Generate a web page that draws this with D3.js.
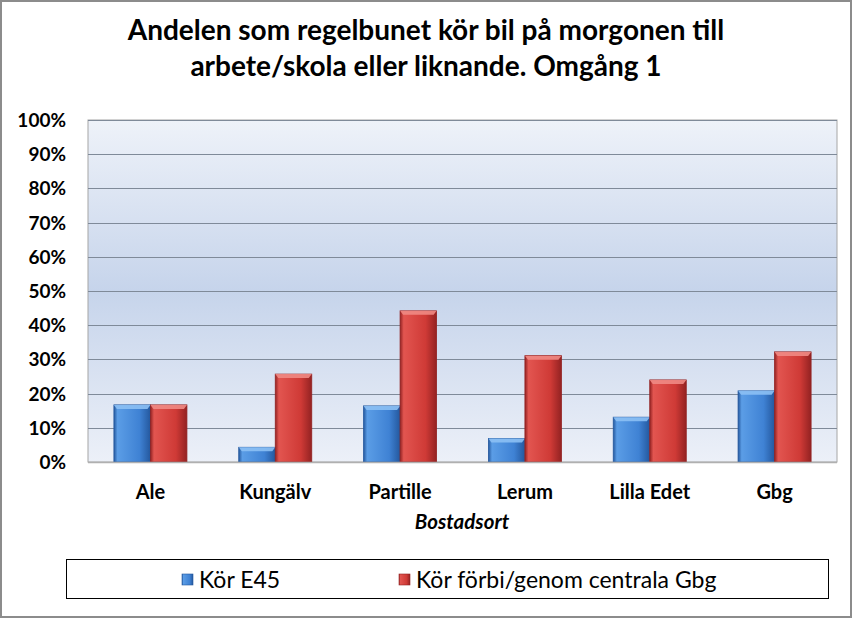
<!DOCTYPE html>
<html>
<head>
<meta charset="utf-8">
<script src="https://cdn.jsdelivr.net/npm/d3@7"></script>
<style>
  body { margin: 0; background: #fff; }
  svg { display: block; }
  text { font-family: Lato, "Open Sans", sans-serif; }
</style>
</head>
<body>
<svg id="chart"></svg>
<script>
const width = 852;
const height = 618;

// data
const categories = ['Ale', 'Kungälv', 'Partille', 'Lerum', 'Lilla Edet', 'Gbg'];
const seriesNames = ['Kör E45', 'Kör förbi/genom centrala Gbg'];
const e45 = [0.167, 0.043, 0.164, 0.069, 0.131, 0.208];
const central = [0.167, 0.257, 0.442, 0.311, 0.240, 0.322];
const yTicks = [0, 0.1, 0.2, 0.3, 0.4, 0.5, 0.6, 0.7, 0.8, 0.9, 1];
const titleLines = ['Andelen som regelbunet kör bil på morgonen till', 'arbete/skola eller liknande. Omgång 1'];

const margin = { top: 120, right: 15, bottom: 156, left: 88 };
const plot = {
  left: margin.left,
  right: width - margin.right,
  top: margin.top,
  bottom: height - margin.bottom,
};

const svg = d3.select('#chart').attr('width', width).attr('height', height);
const defs = svg.append('defs');

// plot background gradient
const bg = defs.append('linearGradient').attr('id', 'bg').attr('x1', 0).attr('y1', 0).attr('x2', 0).attr('y2', 1);
bg.append('stop').attr('offset', '0%').attr('stop-color', '#eef2f9');
bg.append('stop').attr('offset', '50%').attr('stop-color', '#c6d4eb');
bg.append('stop').attr('offset', '100%').attr('stop-color', '#ecf0f8');

// bar gradients (horizontal shading for bevel look)
const colors = [
  { id: 'g0', light: '#5b9de6', mid: '#3f82d4', dark: '#24589e', top: '#8cc0f4' },
  { id: 'g1', light: '#e25550', mid: '#cf3a36', dark: '#932222', top: '#f08a84' },
];
colors.forEach((c) => {
  const g = defs.append('linearGradient').attr('id', c.id).attr('x1', 0).attr('y1', 0).attr('x2', 1).attr('y2', 0);
  g.append('stop').attr('offset', '0%').attr('stop-color', c.dark);
  g.append('stop').attr('offset', '10%').attr('stop-color', c.light);
  g.append('stop').attr('offset', '70%').attr('stop-color', c.mid);
  g.append('stop').attr('offset', '100%').attr('stop-color', c.dark);
});

// outer border
svg.append('rect').attr('x', 1).attr('y', 1).attr('width', width - 2).attr('height', height - 2)
  .attr('fill', '#fff').attr('stroke', '#8c8c8c').attr('stroke-width', 2);

// title
svg.append('g').selectAll('text').data(titleLines).join('text')
  .attr('x', 426)
  .attr('y', (d, i) => 40 + i * 36)
  .attr('text-anchor', 'middle')
  .attr('font-size', 28)
  .attr('font-weight', 'bold')
  .attr('fill', '#000')
  .text((d) => d);

const xScale = d3.scaleBand().domain(categories).range([plot.left, plot.right]).paddingInner(0.415).paddingOuter(0.2075);
const xSub = d3.scaleBand().domain([0, 1]).range([0, xScale.bandwidth()]);
const yScale = d3.scaleLinear().domain([0, 1]).range([plot.bottom, plot.top]);

svg.append('rect')
  .attr('x', plot.left).attr('y', plot.top)
  .attr('width', plot.right - plot.left).attr('height', plot.bottom - plot.top)
  .attr('fill', 'url(#bg)').attr('stroke', '#a6a6a6').attr('stroke-width', 1);

// gridlines
svg.append('g').selectAll('line').data(yTicks.slice(1)).join('line')
  .attr('x1', plot.left).attr('x2', plot.right)
  .attr('y1', (d) => Math.round(yScale(d)) + 0.5).attr('y2', (d) => Math.round(yScale(d)) + 0.5)
  .attr('stroke', '#7f8a99').attr('stroke-width', 1);

// y labels
svg.append('g').selectAll('text').data(yTicks).join('text')
  .attr('x', 66)
  .attr('y', (d) => yScale(d) + 7)
  .attr('text-anchor', 'end')
  .attr('font-size', 19)
  .attr('font-weight', 'bold')
  .text((d) => d3.format('.0%')(d));

// bars
const rows = categories.map((c, i) => ({ cat: c, vals: [e45[i], central[i]] }));
const groups = svg.append('g').selectAll('g').data(rows).join('g')
  .attr('transform', (d) => `translate(${xScale(d.cat)},0)`);

groups.each(function (d) {
  const g = d3.select(this);
  d.vals.forEach((v, s) => {
    const x = xSub(s);
    const w = xSub.bandwidth();
    const y = yScale(v);
    const h = plot.bottom - y;
    g.append('rect').attr('x', x).attr('y', y).attr('width', w).attr('height', h)
      .attr('fill', `url(#${colors[s].id})`).attr('stroke', colors[s].dark).attr('stroke-width', 0.8);
    const bev = Math.min(4, h);
    g.append('path')
      .attr('d', `M${x},${y} L${x + w},${y} L${x + w - 3},${y + bev} L${x + 3},${y + bev} Z`)
      .attr('fill', colors[s].top).attr('opacity', 0.9);
  });
});

// baseline
svg.append('line').attr('x1', plot.left).attr('x2', plot.right)
  .attr('y1', plot.bottom + 0.5).attr('y2', plot.bottom + 0.5)
  .attr('stroke', '#b0b0b0').attr('stroke-width', 1.5);

// category labels
svg.append('g').selectAll('text').data(categories).join('text')
  .attr('x', (d) => xScale(d) + xScale.bandwidth() / 2)
  .attr('y', 499)
  .attr('text-anchor', 'middle')
  .attr('font-size', 20)
  .attr('font-weight', 'bold')
  .text((d) => d);

svg.append('text')
  .attr('x', 462).attr('y', 529)
  .attr('text-anchor', 'middle')
  .attr('font-size', 20.5)
  .attr('font-weight', 'bold')
  .attr('font-style', 'italic')
  .text('Bostadsort');

// legend
svg.append('rect').attr('x', 66.5).attr('y', 559.5).attr('width', 762).attr('height', 39)
  .attr('fill', '#fff').attr('stroke', '#000').attr('stroke-width', 1);

const legendX = [182, 399];
const legend = svg.append('g').selectAll('g').data(seriesNames).join('g')
  .attr('transform', (d, i) => `translate(${legendX[i]},574)`);
legend.append('rect').attr('width', 11).attr('height', 11)
  .attr('fill', (d, i) => `url(#${colors[i].id})`).attr('stroke', (d, i) => colors[i].dark).attr('stroke-width', 0.6);
legend.append('text').attr('x', 17).attr('y', 14)
  .attr('font-size', 23)
  .text((d) => d);
</script>
</body>
</html>
